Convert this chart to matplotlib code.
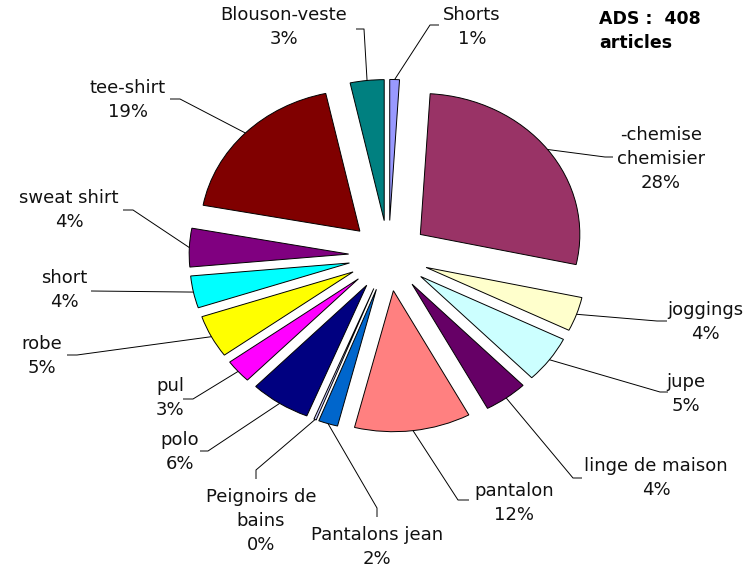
import matplotlib
matplotlib.use("Agg")
import matplotlib.pyplot as plt
import numpy as np

# ---- data (clockwise from 12 o'clock) ----
categories = ["Shorts", "-chemise\nchemisier", "joggings", "jupe", "linge de maison",
              "pantalon", "Pantalons jean", "Peignoirs de\nbains", "polo", "pul",
              "robe", "short", "sweat shirt", "tee-shirt", "Blouson-veste"]
counts = [4, 112, 16, 22, 18, 48, 8, 1, 25, 11, 20, 15, 18, 76, 14]
pct_labels = ["1%", "28%", "4%", "5%", "4%", "12%", "2%", "0%", "6%", "3%",
              "5%", "4%", "4%", "19%", "3%"]
title_text = "ADS :  408\narticles"

# ---- styles / layout ----
colors = ["#9999FF", "#993366", "#FFFFCC", "#CCFFFF", "#660066", "#FF8080",
          "#0066CC", "#CCCCFF", "#000080", "#FF00FF", "#FFFF00", "#00FFFF",
          "#800080", "#800000", "#008080"]

W, H = 752, 568
CX, CY = 388.5, 255.7     # pie centre in pixels
RX, RY = 159.5, 141.0     # pixels per radius unit

def d(px, py):
    return ((px - CX) / RX, (CY - py) / RY)

# label block centres (pixels)
label_pos = [(472, 27), (661, 159), (705, 322), (686, 394), (656, 478),
             (514, 503), (377, 547), (261, 521), (180, 452), (170, 398),
             (42, 356), (64, 290), (69, 210), (128, 100), (284, 27)]
# leader lines: elbow and end points (pixels)
leader_pts = [
    [(430, 25), (439, 25)],
    [(605, 157), (613, 157)],
    [(657, 321), (667, 321)],
    [(660, 392), (668, 392)],
    [(573, 478), (582, 478)],
    [(458, 500), (469, 500)],
    [(377, 508), (377, 517)],
    [(256, 470), (256, 479)],
    [(208, 451), (200, 451)],
    [(193, 399), (183, 399)],
    [(77, 355), (67, 355)],
    [(91, 291), (91, 291)],
    [(133, 210), (123, 210)],
    [(180, 99), (170, 99)],
    [(364, 29), (356, 29)],
]

plt.rcParams['font.family'] = ['DejaVu Sans']
fig = plt.figure(figsize=(W / 100, H / 100), dpi=100)
ax = fig.add_axes([0, 0, 1, 1])

explode = [0.25] * len(counts)
wedges, _ = ax.pie(counts, colors=colors, startangle=90, counterclock=False,
                   explode=explode, radius=1.0,
                   wedgeprops=dict(edgecolor="black", linewidth=0.7))

ax.set_aspect('auto')
ax.set_xlim(-CX / RX, (W - CX) / RX)
ax.set_ylim((CY - H) / RY, CY / RY)
ax.axis('off')

for w, cat, pct, lp, pts in zip(wedges, categories, pct_labels, label_pos, leader_pts):
    th = np.deg2rad((w.theta1 + w.theta2) / 2)
    cx, cy = w.center
    sx, sy = cx + w.r * np.cos(th), cy + w.r * np.sin(th)
    xs = [sx] + [d(*p)[0] for p in pts]
    ys = [sy] + [d(*p)[1] for p in pts]
    ax.plot(xs, ys, color="black", linewidth=0.7, solid_capstyle='butt')
    tx, ty = d(*lp)
    ax.text(tx, ty, cat + "\n" + pct, ha="center", va="center",
            multialignment="center", fontsize=13, color="#111111",
            linespacing=1.42)

tx, ty = d(599, 31)
ax.text(tx, ty, title_text, ha="left", va="center", fontsize=12.5,
        fontweight="bold", color="black", linespacing=1.42)

fig.savefig("out.png", dpi=100)
